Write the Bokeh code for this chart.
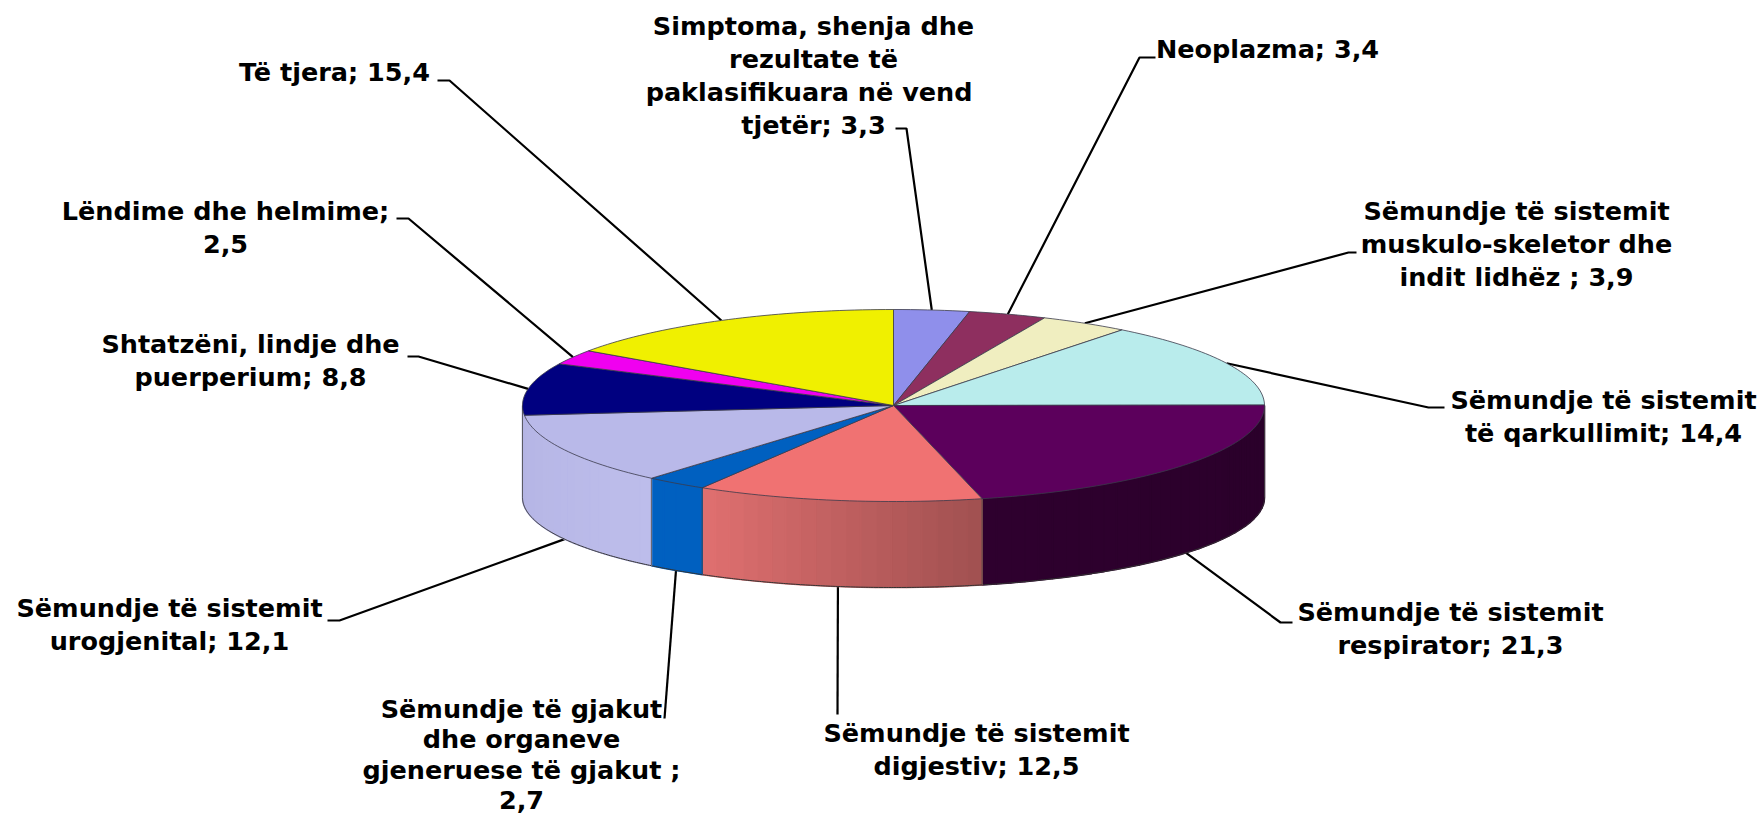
import math
from bokeh.plotting import figure
from bokeh.models import Range1d
from bokeh.core.properties import value
from bokeh.embed import file_html
from bokeh.resources import INLINE

categories = ["Simptoma", "Neoplazma", "Muskulo-skeletor", "Qarkullimit", "Respirator",
              "Digjestiv", "Gjakut", "Urogjenital", "Shtatzeni", "Lendime", "Te tjera"]
values = [3.3, 3.4, 3.9, 14.4, 21.3, 12.5, 2.7, 12.1, 8.8, 2.5, 15.4]
label_lines = [
    ["Simptoma, shenja dhe", "rezultate të", "paklasifikuara  në vend", "tjetër; 3,3"],
    ["Neoplazma; 3,4"],
    ["Sëmundje të sistemit", "muskulo-skeletor dhe", "indit lidhëz ; 3,9"],
    ["Sëmundje të sistemit", "të qarkullimit; 14,4"],
    ["Sëmundje të sistemit", "respirator; 21,3"],
    ["Sëmundje të sistemit", "digjestiv; 12,5"],
    ["Sëmundje të gjakut", "dhe organeve", "gjeneruese të gjakut ;", "2,7"],
    ["Sëmundje të sistemit", "urogjenital; 12,1"],
    ["Shtatzëni, lindje dhe", "puerperium; 8,8"],
    ["Lëndime dhe helmime;", "2,5"],
    ["Të tjera; 15,4"],
]
top_colors = ["#8F8FEB", "#8E2F5F", "#F0EEC0", "#B9ECEC", "#5C005C", "#F07272",
              "#0060C0", "#B9B9E9", "#000080", "#F000F0", "#F0F000"]
# side colour at the start and end of each slice (gradient)
side_colors = {4: ("#2A002A", "#2E002E"), 5: ("#A05050", "#E07070"), 6: ("#0060C0", "#0060C0"),
               7: ("#BDBDEB", "#B4B4E4")}
side_end = {7: 0.75}

# layout (pixels)
CX, CY, RX, RY = 893, 405, 371, 96
BOT_CY, BOT_RY = 497, 90
label_pos = [(813, 25), (1267, 48), (1516, 210), (1603, 399), (1450, 611), (976, 732),
             (521, 708), (169, 607), (250, 343), (225, 210), (334, 71)]
line_pitch = [33, 33, 33, 33, 33, 33, 30.5, 33, 33, 33, 33]
leader_via = [[(906, 128), (895, 128)], [(1139, 57), (1155, 57)], [(1348, 252), (1356, 252)],
              [(1428, 407), (1444, 407)], [(1280, 622), (1292, 622)], [(837, 714)],
              [(664, 718)], [(339, 620), (327, 620)], [(418, 356), (407, 356)],
              [(408, 218), (396, 218)], [(449, 80), (437, 80)]]
lower_leader = {4, 5, 6, 7}


def top_pt(f):
    a = 2 * math.pi * f
    return CX + RX * math.sin(a), CY - RY * math.cos(a)


def bot_pt(f):
    a = 2 * math.pi * f
    return CX + RX * math.sin(a), BOT_CY - BOT_RY * math.cos(a)


def hex2rgb(h):
    return tuple(int(h[i:i + 2], 16) for i in (1, 3, 5))


def mix(c0, c1, t):
    a, b = hex2rgb(c0), hex2rgb(c1)
    return "#%02x%02x%02x" % tuple(round(a[i] + (b[i] - a[i]) * t) for i in range(3))


total = sum(values)
starts, ends = [], []
acc = 0.0
for v in values:
    starts.append(acc / total)
    acc += v
    ends.append(acc / total)

p = figure(width=1764, height=815, x_range=Range1d(0, 1764), y_range=Range1d(815, 0),
           output_backend="svg", toolbar_location=None, min_border=0,
           background_fill_color="white", border_fill_color="white")
p.axis.visible = False
p.grid.visible = False
p.outline_line_color = None

# leaders
for i, via in enumerate(leader_via):
    m = (starts[i] + ends[i]) / 2
    tip = bot_pt(m) if i in lower_leader else top_pt(m)
    pts = [tip] + via
    p.line([q[0] for q in pts], [q[1] for q in pts], line_color="#000000", line_width=2.2)

# sides as narrow strips, so that the gradients can be shown
for i, (c0, c1) in side_colors.items():
    s, e = max(starts[i], 0.25), side_end.get(i, min(ends[i], 0.75))
    n = max(1, int((e - s) * 160))
    xs, ys, cols = [], [], []
    for k in range(n):
        f0 = s + (e - s) * k / n
        f1 = s + (e - s) * (k + 1) / n
        t0, t1 = top_pt(f0), top_pt(f1)
        b0, b1 = bot_pt(f0), bot_pt(f1)
        xs.append([t0[0], t1[0], b1[0], b0[0]])
        ys.append([t0[1], t1[1], b1[1], b0[1]])
        cols.append(mix(c0, c1, (k + 0.5) / n))
    p.patches(xs, ys, fill_color=cols, line_color=cols, line_width=1.6)
    # slice border lines and lower edge
    m = max(n * 6, 12)
    lo = [bot_pt(s + (e - s) * k / m) for k in range(m + 1)]
    p.line([q[0] for q in lo], [q[1] for q in lo], line_color="#333333", line_width=1)
    for f in (s, e):
        t, b = top_pt(f), bot_pt(f)
        p.line([t[0], b[0]], [t[1], b[1]], line_color="#444444", line_width=0.8)

# top wedges
for i, c in enumerate(top_colors):
    s, e = starts[i], ends[i]
    n = max(4, int((e - s) * 300))
    pts = [(CX, CY)] + [top_pt(s + (e - s) * k / n) for k in range(n + 1)]
    p.patch([q[0] for q in pts], [q[1] for q in pts], fill_color=c,
            line_color="#3a3a4a", line_width=0.8)

# labels
for i, lines in enumerate(label_lines):
    x, y = label_pos[i]
    for j, t in enumerate(lines):
        p.text([x], [y + j * line_pitch[i]], text=[t], text_font=value("DejaVu Sans"),
               text_font_style="bold", text_font_size="25.5px", text_color="#000000",
               text_align="center", text_baseline="middle")

open("out.html", "w").write(file_html(p, INLINE))
